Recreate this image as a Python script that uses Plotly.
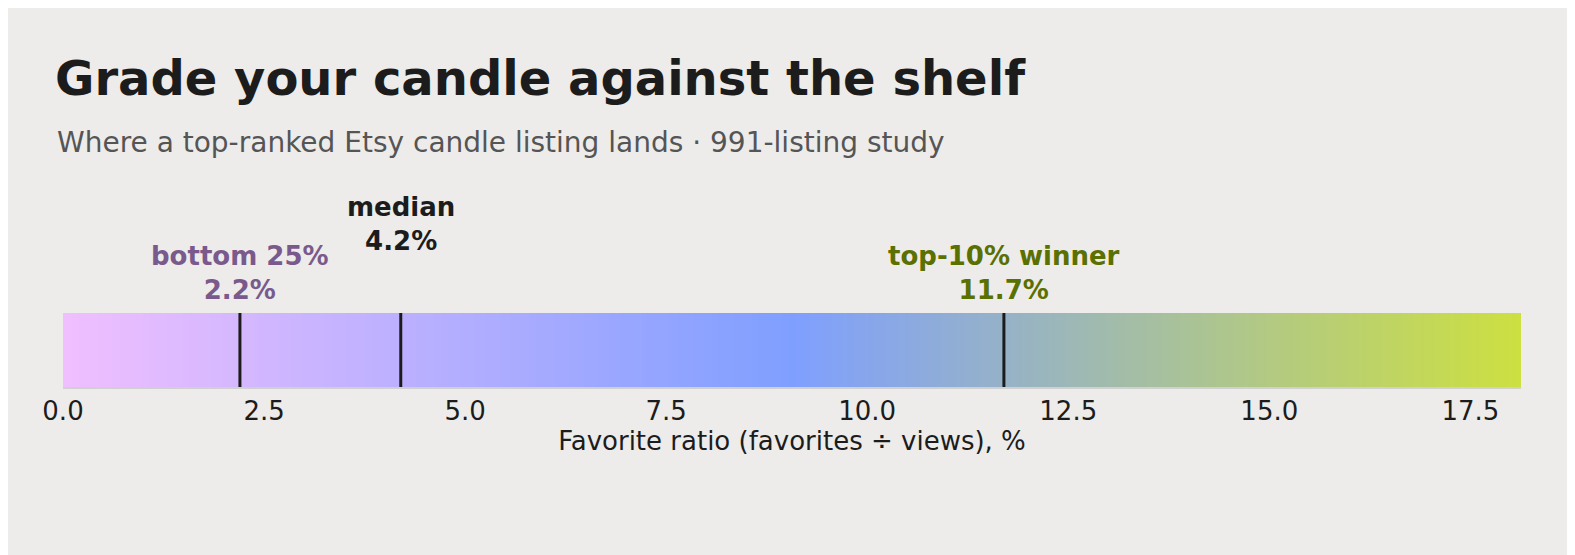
import numpy as np
import plotly.graph_objects as go

x_max = 18.13
marker_values = [2.2, 4.2, 11.7]
marker_labels = ["bottom 25%<br>2.2%", "median<br>4.2%", "top-10% winner<br>11.7%"]
marker_colors = ["#7a5a8c", "#1c1c1c", "#5a7000"]
marker_levels = [0, 1, 0]
tick_vals = [0, 2.5, 5, 7.5, 10, 12.5, 15, 17.5]
tick_text = ["0.0", "2.5", "5.0", "7.5", "10.0", "12.5", "15.0", "17.5"]

xs = np.linspace(0, x_max, 400)
fig = go.Figure(go.Heatmap(
    x=xs, y=[0], z=[xs], showscale=False, hoverinfo="skip",
    colorscale=[[0, "#f0bfff"], [0.5, "#7f9fff"], [1, "#cde040"]],
    zmin=0, zmax=x_max))

for v, lab, c, lvl in zip(marker_values, marker_labels, marker_colors, marker_levels):
    fig.add_shape(type="line", xref="x", yref="paper", x0=v, x1=v, y0=0, y1=1,
                  line=dict(color="#1c1c1c", width=3))
    fig.add_annotation(x=v, y=1, xref="x", yref="paper", text="<b>" + lab + "</b>",
                       showarrow=False, yanchor="bottom", yshift=6 + 49 * lvl,
                       font=dict(size=26, color=c, family="DejaVu Sans"))

fig.update_layout(
    width=1575, height=555, paper_bgcolor="#edeceb", plot_bgcolor="#edeceb",
    margin=dict(l=55, r=62, t=305, b=176),
    font=dict(family="DejaVu Sans", color="#1c1c1c"),
    title=dict(text="<b>Grade your candle against the shelf</b>", x=47/1575, xanchor="left",
               y=1 - 70/555, yanchor="middle", font=dict(size=48, color="#1c1c1c")),
    xaxis=dict(range=[0, x_max], tickvals=tick_vals, ticktext=tick_text, showgrid=False,
               zeroline=False, showline=True, linecolor="#d0d0d0", linewidth=2,
               tickfont=dict(size=26), ticks="",
               title=dict(text="Favorite ratio (favorites ÷ views), %", font=dict(size=26), standoff=6)),
    yaxis=dict(range=[-0.5, 0.5], visible=False),
)
fig.add_annotation(text="Where a top-ranked Etsy candle listing lands · 991-listing study",
                   xref="paper", yref="paper", x=(47 - 55) / 1458, y=1 + (305 - 134) / 74,
                   xanchor="left", yanchor="middle", showarrow=False,
                   font=dict(size=28, color="#555555"))
fig.write_html("out.html")
